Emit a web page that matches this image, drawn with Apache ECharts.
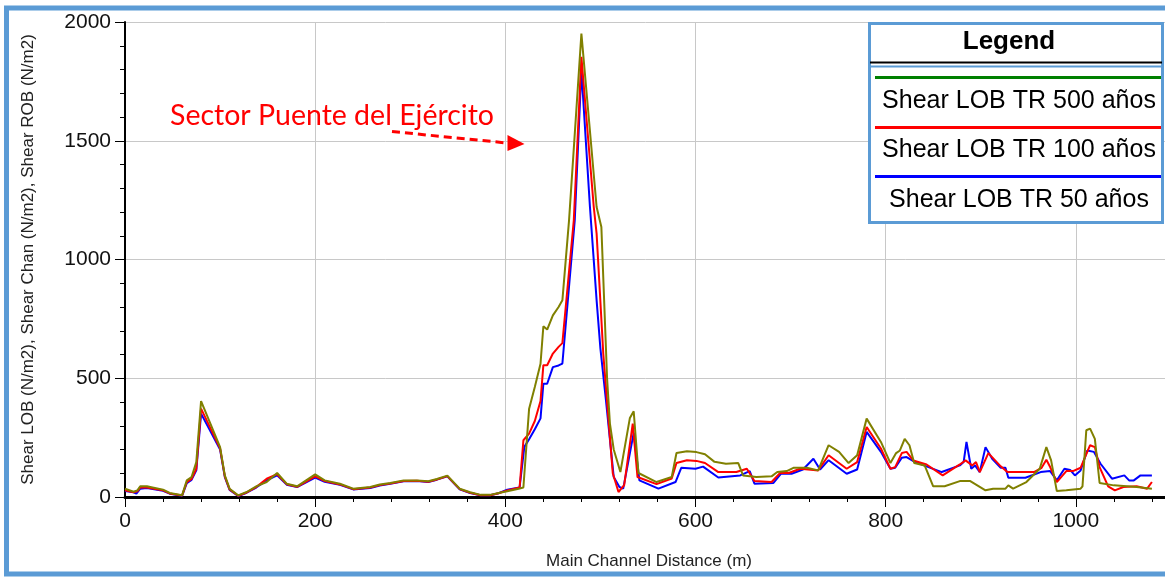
<!DOCTYPE html>
<html><head><meta charset="utf-8">
<script src="https://cdn.jsdelivr.net/npm/echarts@6/dist/echarts.min.js"></script>
<style>html,body{margin:0;padding:0;background:#fff}#c{width:1165px;height:577px}</style>
</head><body><div id="c"></div>
<script>
// ---- data (distance m, shear N/m2) ----
const dist500 = [0,9,13,16,23,40,47,60,65,70,75,80,100,105,110,119,128,138,149,160,170,181,200,210,226,240,258,268,279,293,307,319,328,339,352,363,374,384,393,402,414,419,425,431,437,440,444,450,456,460,467,480,496,501,507,510,514,521,531,535,540,559,575,580,591,601,610,620,632,645,650,664,680,686,696,703,717,729,740,751,761,770,780,795,805,811,815,820,825,830,841,850,862,878,889,905,913,926,929,934,948,962,969,974,980,990,1005,1007,1011,1015,1020,1025,1040,1064,1080];
const shear500 = [35,22,28,45,45,31,17,7,70,84,147,404,210,91,35,7,21,45,63,101,56,45,95,70,56,35,42,53,59,70,70,66,76,90,35,20,9,9,17,24,35,40,372,463,561,719,705,765,800,828,1165,1951,1221,1137,500,309,200,105,333,361,101,63,84,185,193,189,180,148,140,143,91,84,87,105,109,123,123,112,218,190,143,176,330,232,143,185,196,245,218,143,133,45,45,67,67,28,35,35,49,35,63,119,210,154,25,28,35,45,281,288,245,59,49,42,35];

const dist100 = [0,9,13,16,23,40,47,60,65,70,75,80,100,105,110,119,128,138,149,160,170,181,200,210,226,240,258,268,279,293,307,319,328,339,352,363,374,384,393,402,415,419,425,431,437,440,444,450,456,460,472,480,493,496,503,508,513,519,525,534,539,559,575,580,591,601,610,624,643,654,662,680,689,698,710,724,729,740,759,770,780,795,805,810,817,822,829,843,860,878,884,891,895,899,908,921,928,956,964,969,973,980,990,997,1005,1015,1020,1025,1034,1041,1050,1064,1075,1080];
const shear100 = [28,20,24,40,40,28,15,6,63,76,119,372,205,87,32,5,19,42,77,96,54,43,87,67,53,33,40,50,57,67,68,64,74,88,33,18,7,7,16,28,40,239,267,320,404,555,555,604,632,648,1165,1853,1221,1109,604,350,100,21,50,309,84,54,78,143,155,152,143,105,105,119,67,63,101,101,119,114,112,176,119,147,295,204,119,126,185,190,154,137,91,137,154,133,147,105,185,129,105,105,123,157,126,63,109,109,123,218,210,126,45,28,42,45,35,63];

const dist50 = [0,9,12,16,23,40,47,60,65,70,75,80,100,105,110,119,128,138,149,160,170,181,200,210,226,240,258,268,279,293,307,319,328,339,352,363,374,384,393,402,415,420,425,431,437,440,444,450,456,460,473,480,489,496,500,506,514,520,524,535,541,561,579,585,600,608,624,647,657,662,682,690,701,713,724,731,740,759,770,780,795,805,810,817,822,831,859,878,882,885,890,894,899,905,912,921,926,929,947,963,973,980,988,994,999,1005,1012,1019,1026,1038,1051,1056,1061,1068,1080];
const shear50 = [25,20,14,35,38,26,14,5,58,72,112,351,200,84,30,4,18,40,70,91,52,42,82,64,51,32,38,48,56,66,67,63,73,87,32,17,7,7,16,31,40,211,243,285,331,477,477,547,554,562,1165,1797,1221,828,625,400,84,42,35,270,70,35,63,123,119,128,82,91,109,56,59,98,98,116,161,116,155,98,116,274,190,119,123,165,168,147,105,133,147,232,119,133,105,210,161,123,123,81,81,105,109,70,119,114,91,112,196,190,140,77,91,70,70,91,91];

const xTicks = {min: 0, max: 1200, interval: 200};
const yTicks = {min: 0, max: 2000, interval: 500};
const seriesNames = ['Shear LOB TR 50 años', 'Shear LOB TR 100 años', 'Shear LOB TR 500 años'];
const yName = 'Shear LOB (N/m2), Shear Chan (N/m2), Shear ROB (N/m2)';
const xName = 'Main Channel Distance (m)';
const noteText = 'Sector Puente del Ejército';

const zip = (a, b) => a.map((x, i) => [x, b[i]]);
const FONT = '"Liberation Sans", Arial, sans-serif';
const BLUEFRAME = '#5b9bd5';
const plain = v => String(v);

const chart = echarts.init(document.getElementById('c'));
chart.setOption({
  animation: false,
  backgroundColor: '#fff',
  grid: {left: 125, top: 22, right: -101, bottom: 80, containLabel: false, outerBoundsMode: 'none'},
  xAxis: [{
    type: 'value', min: xTicks.min, max: xTicks.max, interval: xTicks.interval,
    axisLine: {onZero: false, lineStyle: {color: '#000', width: 3}},
    axisTick: {show: true, length: 10, lineStyle: {color: '#000', width: 1}},
    minorTick: {show: true, splitNumber: 5, length: 5, lineStyle: {color: '#000', width: 1}},
    axisLabel: {fontFamily: FONT, fontSize: 21, color: '#111', margin: 14, showMaxLabel: false, formatter: plain},
    splitLine: {show: true, lineStyle: {color: '#c8c8c8', width: 1}}
  }, {
    type: 'value', position: 'top', min: xTicks.min, max: xTicks.max,
    axisLine: {show: true, lineStyle: {color: '#000', width: 2}},
    axisTick: {show: false}, axisLabel: {show: false}, splitLine: {show: false}
  }],
  yAxis: {
    type: 'value', min: yTicks.min, max: yTicks.max, interval: yTicks.interval,
    name: yName, nameLocation: 'middle', nameGap: 88,
    nameTextStyle: {fontFamily: FONT, fontSize: 17, color: '#222'},
    axisLine: {show: true, lineStyle: {color: '#000', width: 2}},
    axisTick: {show: true, length: 10, lineStyle: {color: '#000', width: 1}},
    minorTick: {show: true, splitNumber: 5, length: 5, lineStyle: {color: '#000', width: 1}},
    axisLabel: {fontFamily: FONT, fontSize: 21, color: '#111', margin: 14, formatter: plain},
    splitLine: {show: true, lineStyle: {color: '#c8c8c8', width: 1}}
  },
  series: [
    {name: seriesNames[0], type: 'line', data: zip(dist50, shear50), showSymbol: false, color: '#0000ff', lineStyle: {width: 2}},
    {name: seriesNames[1], type: 'line', data: zip(dist100, shear100), showSymbol: false, color: '#ff0000', lineStyle: {width: 2}},
    {name: seriesNames[2], type: 'line', data: zip(dist500, shear500), showSymbol: false, color: '#808000', lineStyle: {width: 2}}
  ],
  graphic: [
    {type: 'rect', silent: true, z: 100, shape: {x: 6.5, y: 8, width: 1200, height: 566},
     style: {fill: 'none', stroke: BLUEFRAME, lineWidth: 5}},
    {type: 'text', z: 100, style: {text: xName, x: 649, y: 561, align: 'center', verticalAlign: 'middle',
      font: '17px ' + FONT, fill: '#222'}},
    // annotation
    {type: 'text', z: 100, style: {text: noteText, x: 170, y: 116, align: 'left', verticalAlign: 'middle',
      font: '28.5px Lato, "Open Sans", sans-serif', fill: '#ff0000'}},
    {type: 'line', z: 100, shape: {x1: 392, y1: 131.5, x2: 507, y2: 143},
     style: {stroke: '#ff0000', lineWidth: 3, lineDash: [8, 5]}},
    {type: 'polygon', z: 100, shape: {points: [[507.5, 135], [524.5, 144], [507.5, 151]]},
     style: {fill: '#ff0000'}},
    // legend box
    {type: 'rect', z: 100, shape: {x: 869.5, y: 23.5, width: 293, height: 199},
     style: {fill: '#fff', stroke: BLUEFRAME, lineWidth: 3}},
    {type: 'line', z: 101, shape: {x1: 870, y1: 62.5, x2: 1162, y2: 62.5}, style: {stroke: '#000', lineWidth: 2}},
    {type: 'line', z: 101, shape: {x1: 870, y1: 66.5, x2: 1162, y2: 66.5}, style: {stroke: BLUEFRAME, lineWidth: 2}},
    {type: 'text', z: 101, style: {text: 'Legend', x: 1009, y: 42, align: 'center', verticalAlign: 'middle',
      font: 'bold 26px ' + FONT, fill: '#000'}},
    {type: 'line', z: 101, shape: {x1: 875, y1: 77.5, x2: 1161, y2: 77.5}, style: {stroke: '#008000', lineWidth: 3}},
    {type: 'text', z: 101, style: {text: seriesNames[2], x: 1019, y: 101, align: 'center', verticalAlign: 'middle',
      font: '25px ' + FONT, fill: '#000'}},
    {type: 'line', z: 101, shape: {x1: 875, y1: 127.5, x2: 1161, y2: 127.5}, style: {stroke: '#ff0000', lineWidth: 3}},
    {type: 'text', z: 101, style: {text: seriesNames[1], x: 1019, y: 150, align: 'center', verticalAlign: 'middle',
      font: '25px ' + FONT, fill: '#000'}},
    {type: 'line', z: 101, shape: {x1: 875, y1: 176.5, x2: 1161, y2: 176.5}, style: {stroke: '#0000ff', lineWidth: 3}},
    {type: 'text', z: 101, style: {text: seriesNames[0], x: 1019, y: 200, align: 'center', verticalAlign: 'middle',
      font: '25px ' + FONT, fill: '#000'}}
  ]
});
</script></body></html>
